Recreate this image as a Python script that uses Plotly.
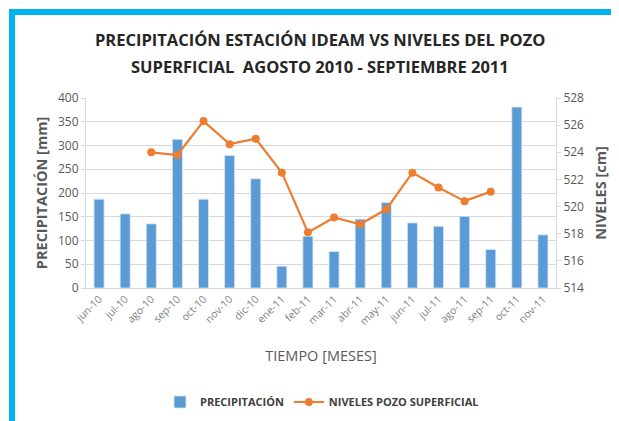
import plotly.graph_objects as go

# the page body has an 8px margin, so the figure is drawn 8px in from the corner
OFF = 8
W, H = 619 - OFF, 421 - OFF
L, R, T, B = 86 - OFF, 556 - OFF, 98 - OFF, 288 - OFF  # plot area in figure pixels

meses = ["jun-10", "jul-10", "ago-10", "sep-10", "oct-10", "nov-10", "dic-10",
         "ene-11", "feb-11", "mar-11", "abr-11", "may-11", "jun-11", "jul-11",
         "ago-11", "sep-11", "oct-11", "nov-11"]
precipitacion = [187, 156, 135, 313, 187, 279, 230, 46, 109, 77, 145, 180,
                 137, 130, 151, 81, 381, 112]
niveles = [None, None, 524.0, 523.8, 526.3, 524.6, 525.0, 522.5, 518.1, 519.2,
           518.7, 519.8, 522.5, 521.4, 520.4, 521.1, None, None]
titulo = ["PRECIPITACIÓN ESTACIÓN IDEAM VS NIVELES DEL POZO",
          "SUPERFICIAL  AGOSTO 2010 - SEPTIEMBRE 2011"]

GRAY = "#595959"
FONT = "Open Sans, sans-serif"


def px_x(p):
    return (p - OFF - L) / (R - L)


def px_y(p):
    return (B - (p - OFF)) / (B - T)


fig = go.Figure()
fig.add_trace(go.Bar(x=meses, y=precipitacion, name="<b>PRECIPITACIÓN</b>",
                     marker=dict(color="#5B9BD5", line=dict(color="#dbe8f5", width=0.8))))
fig.add_trace(go.Scatter(x=meses, y=niveles, name="<b>NIVELES POZO SUPERFICIAL</b>", yaxis="y2",
                         mode="lines+markers", connectgaps=False,
                         line=dict(color="#ED7D31", width=2.2),
                         marker=dict(size=8, color="#ED7D31")))

# cyan frame (top and left edges)
fig.add_shape(type="rect", xref="paper", yref="paper", layer="above",
              x0=px_x(9), x1=px_x(15), y0=px_y(430), y1=px_y(9),
              fillcolor="#00B4F0", line_width=0)
fig.add_shape(type="rect", xref="paper", yref="paper", layer="above",
              x0=px_x(9), x1=px_x(630), y0=px_y(15), y1=px_y(9),
              fillcolor="#00B4F0", line_width=0)

# two-line title, drawn as annotations to control the line spacing
for texto, yy in zip(titulo, [40, 67]):
    fig.add_annotation(text=f"<b>{texto}</b>", xref="paper", yref="paper",
                       x=px_x(320), y=px_y(yy), xanchor="center", yanchor="middle",
                       showarrow=False, font=dict(size=16.5, color="#262626", family=FONT))

fig.update_layout(
    width=W, height=H,
    margin=dict(l=L, r=W - R, t=T, b=H - B, autoexpand=False),
    paper_bgcolor="white", plot_bgcolor="white",
    font=dict(family=FONT, color=GRAY, size=11),
    bargap=0.615,
    showlegend=True,
    legend=dict(orientation="h", x=px_x(322), xanchor="center", y=px_y(402), yanchor="middle",
                font=dict(size=11, color="#404040", family=FONT), traceorder="normal",
                itemwidth=30),
    xaxis=dict(tickangle=-45, tickfont=dict(size=10.5, color="#7f7f7f"), automargin=False,
               range=[-0.5, len(meses) - 0.5],
               showline=True, linecolor="#d9d9d9", linewidth=1,
               title=dict(text="TIEMPO [MESES]", font=dict(size=14.5, color=GRAY), standoff=24)),
    yaxis=dict(range=[0, 400], dtick=50, gridcolor="#d9d9d9", zeroline=False, automargin=False,
               showline=True, linecolor="#d9d9d9", ticks="outside", ticklen=4,
               tickcolor="#d9d9d9", tickfont=dict(size=12, color=GRAY),
               title=dict(text="<b>PRECIPITACIÓN [mm]</b>", font=dict(size=14.5, color=GRAY),
                          standoff=6)),
    yaxis2=dict(range=[514, 528], dtick=2, overlaying="y", side="right", showgrid=False,
                zeroline=False, showline=True, linecolor="#d9d9d9", ticks="outside",
                automargin=False,
                ticklen=4, tickcolor="#d9d9d9", tickfont=dict(size=12, color=GRAY),
                title=dict(text="<b>NIVELES [cm]</b>", font=dict(size=14.5, color=GRAY),
                           standoff=12)),
)

fig.write_html("out.html")
